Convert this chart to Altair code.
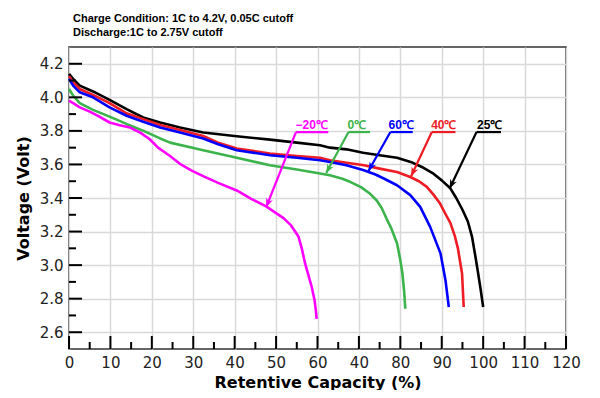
import math
import altair as alt
import pandas as pd

# ---------------- data ----------------
series_names = ["25℃", "40℃", "60℃", "0℃", "−20℃"]
series_colors = ["#000000", "#ee1c25", "#0000ff", "#3cb44b", "#ff00ff"]

cap_25 = [0, 1, 2.6, 5.8, 9.8, 13.9, 17.9, 22, 26.8, 32.4, 40.5, 48.5, 55, 60.6, 63, 67, 71, 75, 79.2,
          82.5, 85.6, 88, 90, 92, 93.5, 95, 96.3, 97.3, 98, 98.6, 99.3, 100]
volt_25 = [4.14, 4.11, 4.07, 4.035, 3.985, 3.93, 3.88, 3.85, 3.82, 3.79, 3.768, 3.748, 3.73, 3.714, 3.70,
           3.69, 3.67, 3.655, 3.64, 3.615, 3.58, 3.545, 3.505, 3.46, 3.40, 3.33, 3.26, 3.17, 3.07, 2.98,
           2.87, 2.75]

cap_40 = [0, 1, 2.6, 5.8, 9.8, 13.9, 17.9, 22, 26.8, 32.4, 36, 40.5, 48.5, 55, 60.6, 63, 67, 71.2, 75,
          79.2, 82.4, 84.5, 86.4, 88, 89.6, 91, 92.1, 93.2, 93.9, 94.5, 94.9, 95.1, 95.3]
volt_40 = [4.125, 4.09, 4.05, 4.015, 3.965, 3.905, 3.87, 3.835, 3.805, 3.77, 3.73, 3.695, 3.665, 3.65,
           3.64, 3.625, 3.61, 3.595, 3.575, 3.555, 3.525, 3.50, 3.466, 3.42, 3.367, 3.30, 3.25, 3.17,
           3.10, 3.01, 2.95, 2.85, 2.75]

cap_60 = [0, 1, 2.6, 5.8, 9.8, 13.9, 17.9, 22, 26.8, 32.4, 36, 40.5, 48.5, 55, 60.6, 63, 67, 71.2, 74,
          76, 79.2, 82.4, 84.8, 87.2, 89.7, 90.9, 91.7]
volt_60 = [4.11, 4.07, 4.03, 4.0, 3.94, 3.89, 3.855, 3.82, 3.79, 3.755, 3.72, 3.685, 3.655, 3.64, 3.625,
           3.615, 3.595, 3.565, 3.54, 3.516, 3.476, 3.417, 3.347, 3.228, 3.07, 2.91, 2.75]

cap_0 = [0, 1, 2.6, 5.8, 9.8, 14, 18, 22, 24.4, 32.4, 40.5, 48.5, 55, 60.6, 63, 66, 68, 70.5, 72.7,
         74.3, 75.5, 76.8, 77.8, 79.2, 80, 80.5, 80.9, 81.2]
volt_0 = [4.05, 4.01, 3.965, 3.925, 3.885, 3.84, 3.80, 3.755, 3.73, 3.685, 3.64, 3.595, 3.57, 3.546,
          3.536, 3.515, 3.495, 3.465, 3.425, 3.385, 3.34, 3.27, 3.22, 3.13, 3.03, 2.95, 2.85, 2.74]

cap_m20 = [0, 1, 2.6, 5, 7, 9.8, 12, 14.7, 17.2, 19.5, 21.5, 24.4, 27, 29.5, 32.4, 36, 40.5, 44, 47.6,
           50, 51.8, 53.5, 55.4, 56.2, 57, 57.8, 58.6, 59.3, 59.6, 59.8]
volt_m20 = [3.98, 3.965, 3.94, 3.915, 3.89, 3.85, 3.835, 3.82, 3.79, 3.75, 3.70, 3.65, 3.60, 3.565,
            3.53, 3.49, 3.445, 3.395, 3.35, 3.31, 3.28, 3.24, 3.17, 3.10, 3.01, 2.94, 2.87, 2.79,
            2.73, 2.68]

# annotation labels (capacity / voltage positions)
label_text = ["−20℃", "0℃", "60℃", "40℃", "25℃"]
label_x = [58.6, 69.5, 80.2, 90.5, 101.6]
under_x0 = [54.8, 67.5, 77.6, 87.6, 98.4]
under_x1 = [62.6, 72.7, 83.0, 93.3, 104.3]
tip_x = [47.6, 62.1, 72.3, 82.6, 91.9]
tip_y = [3.345, 3.549, 3.561, 3.53, 3.457]
under_y = 3.793
label_y = 3.81

x_ticks_major = list(range(0, 121, 10))
x_ticks_minor = list(range(5, 120, 10))
y_ticks_major = [2.6, 2.8, 3.0, 3.2, 3.4, 3.6, 3.8, 4.0, 4.2]
y_ticks_minor = [2.7, 2.9, 3.1, 3.3, 3.5, 3.7, 3.9, 4.1]

header_1 = "Charge Condition: 1C to 4.2V, 0.05C cutoff"
header_2 = "Discharge:1C to 2.75V cutoff"

# ---------------- build tables ----------------
W, H = 497, 302
X_DOM = [0, 120]
Y_DOM = [2.5, 4.3]

rows = []
for name, caps, volts in [("25℃", cap_25, volt_25), ("40℃", cap_40, volt_40),
                          ("60℃", cap_60, volt_60), ("0℃", cap_0, volt_0),
                          ("−20℃", cap_m20, volt_m20)]:
    for i, (c, v) in enumerate(zip(caps, volts)):
        rows.append({"series": name, "cap": c, "volt": v, "i": i})
df = pd.DataFrame(rows)

px_x = W / (X_DOM[1] - X_DOM[0])
px_y = H / (Y_DOM[1] - Y_DOM[0])
ann_rows = []
for t, lx, u0, u1, tx, ty in zip(label_text, label_x, under_x0, under_x1, tip_x, tip_y):
    dx = (tx - u0) * px_x
    dy = -(ty - under_y) * px_y
    ang = math.degrees(math.atan2(dx, -dy)) % 360
    ann_rows.append({"series": t, "lx": lx, "ly": label_y, "u0": u0, "u1": u1, "uy": under_y,
                     "tx": tx, "ty": ty, "ang": ang})
ann = pd.DataFrame(ann_rows)

xs = alt.Scale(domain=X_DOM, nice=False, zero=False)
ys = alt.Scale(domain=Y_DOM, nice=False, zero=False)
cs = alt.Scale(domain=series_names, range=series_colors)

x_axis = alt.Axis(values=x_ticks_major, grid=True, ticks=False, domain=False,
                  labelOverlap=False, labelFlush=False,
                  labelExpr="datum.value == 70 ? '40' : datum.label",
                  labelFont="DejaVu Sans", labelFontSize=15, labelColor="#222",
                  labelPadding=6, title="Retentive Capacity (%)", titleFont="DejaVu Sans",
                  titleFontSize=16, titleFontWeight="bold", titleColor="#000", titlePadding=4,
                  gridColor="#d9d9d9", gridWidth=1.5)
y_axis = alt.Axis(values=y_ticks_major, format=".1f", grid=True, ticks=False, domain=False,
                  labelOverlap=False, labelFlush=False,
                  labelFont="DejaVu Sans", labelFontSize=15, labelColor="#222", labelPadding=6,
                  title="Voltage (Volt)", titleFont="DejaVu Sans", titleFontSize=16,
                  titleFontWeight="bold", titleColor="#000", titlePadding=8,
                  gridColor="#d9d9d9", gridWidth=1.5)


def X(field):
    return alt.X(field, scale=xs, axis=x_axis)


def Y(field):
    return alt.Y(field, scale=ys, axis=y_axis)


COLOR = alt.Color("series:N", scale=cs, legend=None)

lines = alt.Chart(df).mark_line(strokeWidth=2.6, strokeJoin="round").encode(
    x=X("cap:Q"), y=Y("volt:Q"), color=COLOR, detail="series:N", order="i:Q",
)


def xtick_layer(vals, length):
    d = pd.DataFrame({"v": vals})
    return alt.Chart(d).mark_rule(color="#000", strokeWidth=2).encode(
        x=X("v:Q"), y=alt.value(H), y2=alt.value(H - length))


def ytick_layer(vals, length):
    d = pd.DataFrame({"v": vals})
    return alt.Chart(d).mark_rule(color="#000", strokeWidth=2).encode(
        y=Y("v:Q"), x=alt.value(0), x2=alt.value(length))


underline = alt.Chart(ann).mark_rule(strokeWidth=2.2).encode(
    x=X("u0:Q"), x2="u1:Q", y=Y("uy:Q"), color=COLOR)

arrow_line = alt.Chart(ann).mark_rule(strokeWidth=2.2).encode(
    x=X("u0:Q"), x2="tx:Q", y=Y("uy:Q"), y2="ty:Q", color=COLOR)

arrow_head = alt.Chart(ann).mark_point(
    shape="M0,0L-0.75,1.9L0,1.35L0.75,1.9Z", filled=True, size=90, opacity=1, strokeWidth=0
).encode(
    x=X("tx:Q"), y=Y("ty:Q"), angle=alt.Angle("ang:Q", scale=None), color=COLOR)

labels = alt.Chart(ann).mark_text(
    font="Liberation Sans", fontSize=12, fontWeight="bold", baseline="alphabetic", align="center"
).encode(x=X("lx:Q"), y=Y("ly:Q"), text="series:N", color=COLOR)

hdr1 = alt.Chart(pd.DataFrame({"t": [header_1]})).mark_text(
    font="Liberation Sans", fontSize=11, fontWeight="bold", align="left", baseline="middle",
    color="#000").encode(x=alt.value(4), y=alt.value(-28), text="t:N")
hdr2 = alt.Chart(pd.DataFrame({"t": [header_2]})).mark_text(
    font="Liberation Sans", fontSize=11, fontWeight="bold", align="left", baseline="middle",
    color="#000").encode(x=alt.value(4), y=alt.value(-14), text="t:N")

chart = alt.layer(
    lines,
    xtick_layer(x_ticks_major, 13), xtick_layer(x_ticks_minor, 7),
    ytick_layer(y_ticks_major, 13), ytick_layer(y_ticks_minor, 7),
    underline, arrow_line, arrow_head, labels, hdr1, hdr2,
).properties(
    width=W, height=H,
    background="white",
    autosize=alt.AutoSizeParams(type="none"),
    padding={"left": 61, "top": 39, "right": 26, "bottom": 41},
).configure_view(stroke="#333", strokeWidth=1.5)

chart.save("out.html", embed_options={"renderer": "svg", "actions": False})
